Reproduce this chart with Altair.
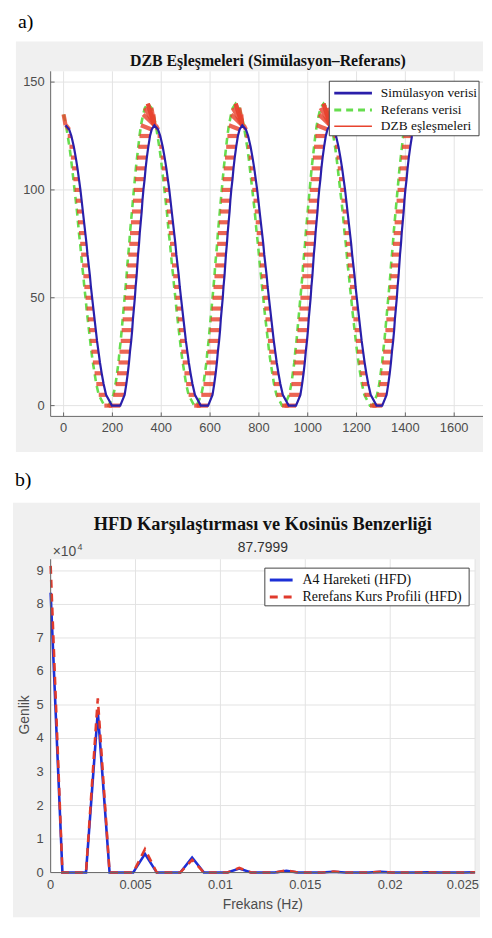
import numpy as np
import pandas as pd
import altair as alt

# ---------------- Panel a: DZB (DTW) data ----------------
# Each curve is read as x-positions (sample index) at fixed amplitude levels,
# one list per monotone stretch of the curve.
SIM_DOWN_LEVELS = [130, 128, 125, 120, 115, 110, 105, 100, 95, 90, 85, 80, 75, 70,
                   65, 60, 55, 50, 45, 40, 35, 30, 25, 20, 15, 10, 5, 0]
SIM_UP_LEVELS = [0, 5, 10, 15, 20, 25, 30, 35, 40, 45, 50, 55, 60, 65, 70,
                 75, 80, 85, 90, 95, 100, 105, 110, 115, 120, 125, 128, 130]
REF_DOWN_LEVELS = [140, 138, 135, 130, 125, 120, 115, 110, 105, 100, 95, 90, 85, 80, 75,
                   70, 65, 60, 55, 50, 45, 40, 35, 30, 25, 20, 15, 10, 5, 0]
REF_UP_LEVELS = [0, 5, 10, 15, 20, 25, 30, 35, 40, 45, 50, 55, 60, 65, 70, 75,
                 80, 85, 90, 95, 100, 105, 110, 115, 120, 125, 130, 135, 138, 140]

# Simülasyon verisi (blue)
sim_down_1 = [8, 23, 32, 42, 50, 57, 63, 69, 74, 79, 84, 89, 94, 98,
              103, 108, 112, 117, 122, 127, 132, 137, 143, 149, 156, 164, 174, 198]
sim_up_1 = [232, 250, 257, 263, 268, 272, 277, 281, 284, 288, 292, 295, 299, 302,
            305, 309, 312, 316, 320, 323, 327, 332, 336, 341, 347, 354, 361, 372]
sim_down_2 = [372, 387, 396, 406, 414, 421, 427, 433, 438, 443, 448, 453, 458, 462,
              467, 472, 476, 481, 486, 491, 496, 501, 507, 513, 520, 528, 538, 562]
sim_up_2 = [592, 610, 617, 623, 628, 632, 637, 641, 644, 648, 652, 655, 659, 662,
            665, 669, 672, 676, 680, 683, 687, 692, 696, 701, 707, 714, 721, 732]
sim_down_3 = [732, 747, 756, 766, 774, 781, 787, 793, 798, 803, 808, 813, 818, 822,
              827, 832, 836, 841, 846, 851, 856, 861, 867, 873, 880, 888, 898, 922]
sim_up_3 = [952, 970, 977, 983, 988, 992, 997, 1001, 1004, 1008, 1012, 1015, 1019, 1022,
            1025, 1029, 1032, 1036, 1040, 1043, 1047, 1052, 1056, 1061, 1067, 1074, 1081, 1092]
sim_down_4 = [1092, 1107, 1116, 1126, 1134, 1141, 1147, 1153, 1158, 1163, 1168, 1173, 1178, 1182,
              1187, 1192, 1196, 1201, 1206, 1211, 1216, 1221, 1227, 1233, 1240, 1248, 1258, 1282]
sim_up_4 = [1305, 1323, 1330, 1336, 1341, 1345, 1350, 1354, 1357, 1361, 1365, 1368, 1372,
            1375, 1378, 1382, 1385, 1389, 1393, 1396, 1400, 1405, 1409, 1414, 1420, 1427]

# Referans verisi (green)
ref_down_1 = [0, 10, 17, 24, 30, 35, 40, 45, 50, 55, 59, 63, 68, 72,
              76, 81, 85, 90, 94, 99, 104, 109, 114, 120, 127, 134, 144, 167]
ref_up_1 = [185, 204, 213, 219, 225, 229, 234, 238, 242, 246, 250, 254, 258, 261, 265,
            269, 272, 276, 280, 284, 288, 292, 296, 301, 306, 311, 317, 326, 333, 345]
ref_down_2 = [345, 360, 368, 378, 385, 392, 398, 403, 408, 413, 418, 423, 427, 431, 436,
              440, 444, 449, 453, 458, 462, 467, 472, 477, 482, 488, 495, 502, 512, 535]
ref_up_2 = [545, 564, 573, 579, 585, 589, 594, 598, 602, 606, 610, 614, 618, 621, 625,
            629, 632, 636, 640, 644, 648, 652, 656, 661, 666, 671, 677, 686, 693, 705]
ref_down_3 = [705, 720, 728, 738, 745, 752, 758, 763, 768, 773, 778, 783, 787, 791, 796,
              800, 804, 809, 813, 818, 822, 827, 832, 837, 842, 848, 855, 862, 872, 895]
ref_up_3 = [905, 924, 933, 939, 945, 949, 954, 958, 962, 966, 970, 974, 978, 981, 985,
            989, 992, 996, 1000, 1004, 1008, 1012, 1016, 1021, 1026, 1031, 1037, 1046, 1053, 1065]
ref_down_4 = [1065, 1080, 1088, 1098, 1105, 1112, 1118, 1123, 1128, 1133, 1138, 1143, 1147, 1151, 1156,
              1160, 1164, 1169, 1173, 1178, 1182, 1187, 1192, 1197, 1202, 1208, 1215, 1222, 1232, 1255]
ref_up_4 = [1265, 1284, 1293, 1299, 1305, 1309, 1314, 1318, 1322, 1326, 1330, 1334, 1338, 1341,
            1345, 1349, 1352, 1356, 1360, 1364, 1368, 1372, 1376, 1381, 1386, 1391, 1397]

xticks_a = [0, 200, 400, 600, 800, 1000, 1200, 1400, 1600]
yticks_a = [0, 50, 100, 150]
legend_a = ["Simülasyon verisi", "Referans verisi", "DZB eşleşmeleri"]

# ---------------- Panel b: HFD (FFT) data ----------------
hfd_freq = [0, 0.000694, 0.001389, 0.002083, 0.002778, 0.003472, 0.004167, 0.004861,
            0.005556, 0.00625, 0.006944, 0.007639, 0.008333, 0.009028, 0.009722, 0.010417,
            0.011111, 0.011806, 0.0125, 0.013194, 0.013889, 0.014583, 0.015278, 0.015972,
            0.016667, 0.017361, 0.018056, 0.01875, 0.019444, 0.020139, 0.020833, 0.021528,
            0.022222, 0.022917, 0.023611, 0.024306, 0.025]
a4_amp = [83500, 0, 0, 0, 48000, 0, 0, 0, 5600, 0, 0, 0, 4500, 0, 0, 0,
          1200, 0, 0, 0, 500, 0, 0, 0, 250, 0, 0, 0, 200, 0, 0, 0, 100, 0, 0, 0, 80]
ref_amp = [91500, 0, 0, 0, 52000, 0, 0, 0, 7000, 0, 0, 0, 3800, 0, 0, 0,
           1400, 0, 0, 0, 700, 0, 0, 0, 300, 0, 0, 0, 250, 0, 0, 0, 120, 0, 0, 0, 80]
xticks_b = [0, 0.005, 0.01, 0.015, 0.02, 0.025]
xlabels_b = ["0", "0.005", "0.01", "0.015", "0.02", "0.025"]
yticks_b = [0, 10000, 20000, 30000, 40000, 50000, 60000, 70000, 80000, 90000]
ylabels_b = ["0", "1", "2", "3", "4", "5", "6", "7", "8", "9"]
legend_b = ["A4 Hareketi (HFD)", "Rerefans Kurs Profili (HFD)"]
cosine_similarity_text = "87.7999"

# ---------------- assemble the two series ----------------
sim_x, sim_y, ref_x, ref_y = [], [], [], []
for xs, lv in [(sim_down_1, SIM_DOWN_LEVELS), (sim_up_1, SIM_UP_LEVELS),
               (sim_down_2, SIM_DOWN_LEVELS), (sim_up_2, SIM_UP_LEVELS),
               (sim_down_3, SIM_DOWN_LEVELS), (sim_up_3, SIM_UP_LEVELS),
               (sim_down_4, SIM_DOWN_LEVELS), (sim_up_4, SIM_UP_LEVELS)]:
    sim_x += xs
    sim_y += lv[:len(xs)]
for xs, lv in [(ref_down_1, REF_DOWN_LEVELS[2:]), (ref_up_1, REF_UP_LEVELS),
               (ref_down_2, REF_DOWN_LEVELS), (ref_up_2, REF_UP_LEVELS),
               (ref_down_3, REF_DOWN_LEVELS), (ref_up_3, REF_UP_LEVELS),
               (ref_down_4, REF_DOWN_LEVELS), (ref_up_4, REF_UP_LEVELS)]:
    ref_x += xs
    ref_y += lv[:len(xs)]


# ---------------- DTW matching (derived from the two series) ----------------
def dtw_path(a, b):
    a = np.asarray(a, float)
    b = np.asarray(b, float)
    n, m = len(a), len(b)
    D = np.full((n + 1, m + 1), np.inf)
    D[0, 0] = 0.0
    for i in range(1, n + 1):
        for j in range(1, m + 1):
            c = abs(a[i - 1] - b[j - 1])
            D[i, j] = c + min(D[i - 1, j], D[i, j - 1], D[i - 1, j - 1])
    i, j = n, m
    path = [(i - 1, j - 1)]
    while i > 1 or j > 1:
        if i == 1:
            j -= 1
        elif j == 1:
            i -= 1
        else:
            k = int(np.argmin([D[i - 1, j - 1], D[i - 1, j], D[i, j - 1]]))
            if k == 0:
                i, j = i - 1, j - 1
            elif k == 1:
                i -= 1
            else:
                j -= 1
        path.append((i - 1, j - 1))
    return path[::-1]


path = dtw_path(sim_y, ref_y)
match_df = pd.DataFrame({
    "x": [sim_x[i] for i, j in path],
    "y": [sim_y[i] for i, j in path],
    "x2": [ref_x[j] for i, j in path],
    "y2": [ref_y[j] for i, j in path],
})
sim_df = pd.DataFrame({"x": sim_x, "y": sim_y, "o": range(len(sim_x))})
ref_df = pd.DataFrame({"x": ref_x, "y": ref_y, "o": range(len(ref_x))})

# ---------------- styling ----------------
SERIF = "Liberation Serif"
SANS = "Liberation Sans"
FIG_BG = "#f0f0f0"
GRID = "#e3e3e3"
AXC = "#4d4d4d"
DOM = "#666666"
BLUE_A = "#2a1faa"
GREEN_A = "#66dd4e"
RED_A = "#e8432e"
BLUE_B = "#1c2fd6"
RED_B = "#e03a2c"

one = pd.DataFrame({"k": [0]})


def rect(x1, x2, y1, y2, fill, stroke=None):
    kw = dict(fill=fill, strokeWidth=0)
    if stroke is not None:
        kw = dict(fill=fill, stroke=stroke, strokeWidth=1)
    return alt.Chart(one).mark_rect(**kw).encode(
        x=alt.value(x1), x2=alt.value(x2), y=alt.value(y1), y2=alt.value(y2))


def text(x, y, s, size, font, color="#111111", weight="normal", align="left",
         baseline="alphabetic", angle=0):
    return alt.Chart(one).mark_text(
        font=font, fontSize=size, fontWeight=weight, color=color, align=align,
        baseline=baseline, angle=angle).encode(
        x=alt.value(x), y=alt.value(y), text=alt.value(s))


def hseg(x1, x2, y, color, width, dash=None):
    kw = dict(color=color, strokeWidth=width)
    if dash is not None:
        kw["strokeDash"] = dash
    return alt.Chart(one).mark_rule(**kw).encode(
        x=alt.value(x1), x2=alt.value(x2), y=alt.value(y))


def vseg(x, y1, y2, color, width):
    return alt.Chart(one).mark_rule(color=color, strokeWidth=width).encode(
        x=alt.value(x), y=alt.value(y1), y2=alt.value(y2))


# ================= Panel a =================
WA, HA = 436, 348
xs_a = alt.Scale(domain=[-53, 1718], nice=False, zero=False)
ys_a = alt.Scale(domain=[-5, 155], nice=False, zero=False)

xt_a_df = pd.DataFrame({"v": xticks_a, "t": [str(v) for v in xticks_a]})
yt_a_df = pd.DataFrame({"v": yticks_a, "t": [str(v) for v in yticks_a]})

gx_a = alt.Chart(xt_a_df).mark_rule(color=GRID, strokeWidth=1).encode(
    x=alt.X("v:Q", scale=xs_a, axis=None), y=alt.value(0), y2=alt.value(HA))
gy_a = alt.Chart(yt_a_df).mark_rule(color=GRID, strokeWidth=1).encode(
    y=alt.Y("v:Q", scale=ys_a, axis=None), x=alt.value(0), x2=alt.value(WA))
tx_a = alt.Chart(xt_a_df).mark_rule(color=DOM, strokeWidth=1).encode(
    x=alt.X("v:Q", scale=xs_a, axis=None), y=alt.value(HA - 4), y2=alt.value(HA))
ty_a = alt.Chart(yt_a_df).mark_rule(color=DOM, strokeWidth=1).encode(
    y=alt.Y("v:Q", scale=ys_a, axis=None), x=alt.value(0), x2=alt.value(4))
lx_a = alt.Chart(xt_a_df).mark_text(font=SANS, fontSize=13, color=AXC, align="center",
                                    baseline="top").encode(
    x=alt.X("v:Q", scale=xs_a, axis=None), y=alt.value(HA + 6), text="t:N")
ly_a = alt.Chart(yt_a_df).mark_text(font=SANS, fontSize=13, color=AXC, align="right",
                                    baseline="middle").encode(
    y=alt.Y("v:Q", scale=ys_a, axis=None), x=alt.value(-6), text="t:N")

green_line = alt.Chart(ref_df).mark_line(color=GREEN_A, strokeWidth=2.6, strokeDash=[7, 5]).encode(
    x=alt.X("x:Q", scale=xs_a, axis=None), y=alt.Y("y:Q", scale=ys_a, axis=None),
    order="o:Q")
matches = alt.Chart(match_df).mark_rule(color=RED_A, strokeWidth=4.2, opacity=0.82).encode(
    x=alt.X("x:Q", scale=xs_a, axis=None), y=alt.Y("y:Q", scale=ys_a, axis=None),
    x2="x2:Q", y2="y2:Q")
blue_line = alt.Chart(sim_df).mark_line(color=BLUE_A, strokeWidth=2.2).encode(
    x=alt.X("x:Q", scale=xs_a, axis=None), y=alt.Y("y:Q", scale=ys_a, axis=None),
    order="o:Q")

panel_a = alt.layer(
    rect(-40, WA, -60, 384, "white"),
    rect(-35, WA, -30, 384, FIG_BG),
    rect(0, WA, 0, HA, "white"),
    gx_a, gy_a, tx_a, ty_a,
    green_line, matches, blue_line,
    vseg(0, 0, HA, DOM, 1), hseg(0, WA, HA, DOM, 1),
    lx_a, ly_a,
    rect(281, 432, 10, 65, "white", stroke="#444444"),
    hseg(286, 324, 22, BLUE_A, 3),
    hseg(286, 324, 39, GREEN_A, 3, dash=[7, 5]),
    hseg(286, 324, 55.5, RED_A, 1.5),
    text(333, 22, legend_a[0], 13.5, SERIF, baseline="middle"),
    text(333, 39, legend_a[1], 13.5, SERIF, baseline="middle"),
    text(333, 55.5, legend_a[2], 13.5, SERIF, baseline="middle"),
    text(219, -5, "DZB Eşleşmeleri (Simülasyon–Referans)", 16, SERIF, weight="bold",
         align="center"),
    text(-33, -44, "a)", 20, SERIF, color="#000000"),
).properties(width=WA, height=HA)

# ================= Panel b =================
WB, HB = 428, 316
RB = 433  # right edge of the figure area, relative to the plot
xs_b = alt.Scale(domain=[0, 0.025], nice=False, zero=False)
ys_b = alt.Scale(domain=[0, 93500], nice=False, zero=False)

xt_b_df = pd.DataFrame({"v": xticks_b, "t": xlabels_b})
yt_b_df = pd.DataFrame({"v": yticks_b, "t": ylabels_b})
hfd_df = pd.DataFrame({"f": hfd_freq, "a4": a4_amp, "ref": ref_amp})

gx_b = alt.Chart(xt_b_df).mark_rule(color=GRID, strokeWidth=1).encode(
    x=alt.X("v:Q", scale=xs_b, axis=None), y=alt.value(0), y2=alt.value(HB))
gy_b = alt.Chart(yt_b_df).mark_rule(color=GRID, strokeWidth=1).encode(
    y=alt.Y("v:Q", scale=ys_b, axis=None), x=alt.value(0), x2=alt.value(WB))
lx_b = alt.Chart(xt_b_df.iloc[:-1]).mark_text(font=SANS, fontSize=13, color=AXC, align="center",
                                              baseline="top").encode(
    x=alt.X("v:Q", scale=xs_b, axis=None), y=alt.value(HB + 7), text="t:N")
lx_b_last = alt.Chart(xt_b_df.iloc[-1:]).mark_text(font=SANS, fontSize=13, color=AXC, align="right",
                                                   baseline="top", dx=RB - WB - 1).encode(
    x=alt.X("v:Q", scale=xs_b, axis=None), y=alt.value(HB + 7), text="t:N")
ly_b = alt.Chart(yt_b_df).mark_text(font=SANS, fontSize=13, color=AXC, align="right",
                                    baseline="middle").encode(
    y=alt.Y("v:Q", scale=ys_b, axis=None), x=alt.value(-7), text="t:N")
a4_line = alt.Chart(hfd_df).mark_line(color=BLUE_B, strokeWidth=2.6).encode(
    x=alt.X("f:Q", scale=xs_b, axis=None), y=alt.Y("a4:Q", scale=ys_b, axis=None))
ref_line = alt.Chart(hfd_df).mark_line(color=RED_B, strokeWidth=2.6, strokeDash=[8, 6]).encode(
    x=alt.X("f:Q", scale=xs_b, axis=None), y=alt.Y("ref:Q", scale=ys_b, axis=None))

panel_b = alt.layer(
    rect(-43, RB, -108, 361, "white"),
    rect(-38, RB, -57, 361, FIG_BG),
    rect(0, WB, 0, HB, "white"),
    gx_b, gy_b,
    a4_line, ref_line,
    vseg(0, 0, HB, DOM, 1), hseg(0, WB, HB, DOM, 1),
    lx_b, lx_b_last, ly_b,
    rect(216, 422, 9, 47, "white", stroke="#444444"),
    hseg(221, 244, 21, BLUE_B, 3),
    hseg(221, 244, 38, RED_B, 3, dash=[8, 6]),
    text(254, 21, legend_b[0], 14, SERIF, baseline="middle"),
    text(254, 38, legend_b[1], 14, SERIF, baseline="middle"),
    text(214, -29, "HFD Karşılaştırması ve Kosinüs Benzerliği", 18.5, SERIF,
         weight="bold", align="center"),
    text(214, -7, cosine_similarity_text, 14, SANS, color="#333333", align="center"),
    text(2, -3, "×10", 14, SANS, color=AXC),
    text(27, -9, "4", 9, SANS, color=AXC),
    text(-26, 157, "Genlik", 14, SANS, color=AXC, align="center", baseline="middle",
         angle=270),
    text(214, 349, "Frekans (Hz)", 14, SANS, color=AXC, align="center",
         baseline="middle"),
    text(-36, -74, "b)", 20, SERIF, color="#000000"),
).properties(width=WB, height=HB)

chart = alt.vconcat(panel_a, panel_b, spacing=0).properties(
    padding=0, background="white"
).configure_view(strokeWidth=0)

chart.save("out.html", embed_options={"renderer": "svg", "actions": False})
